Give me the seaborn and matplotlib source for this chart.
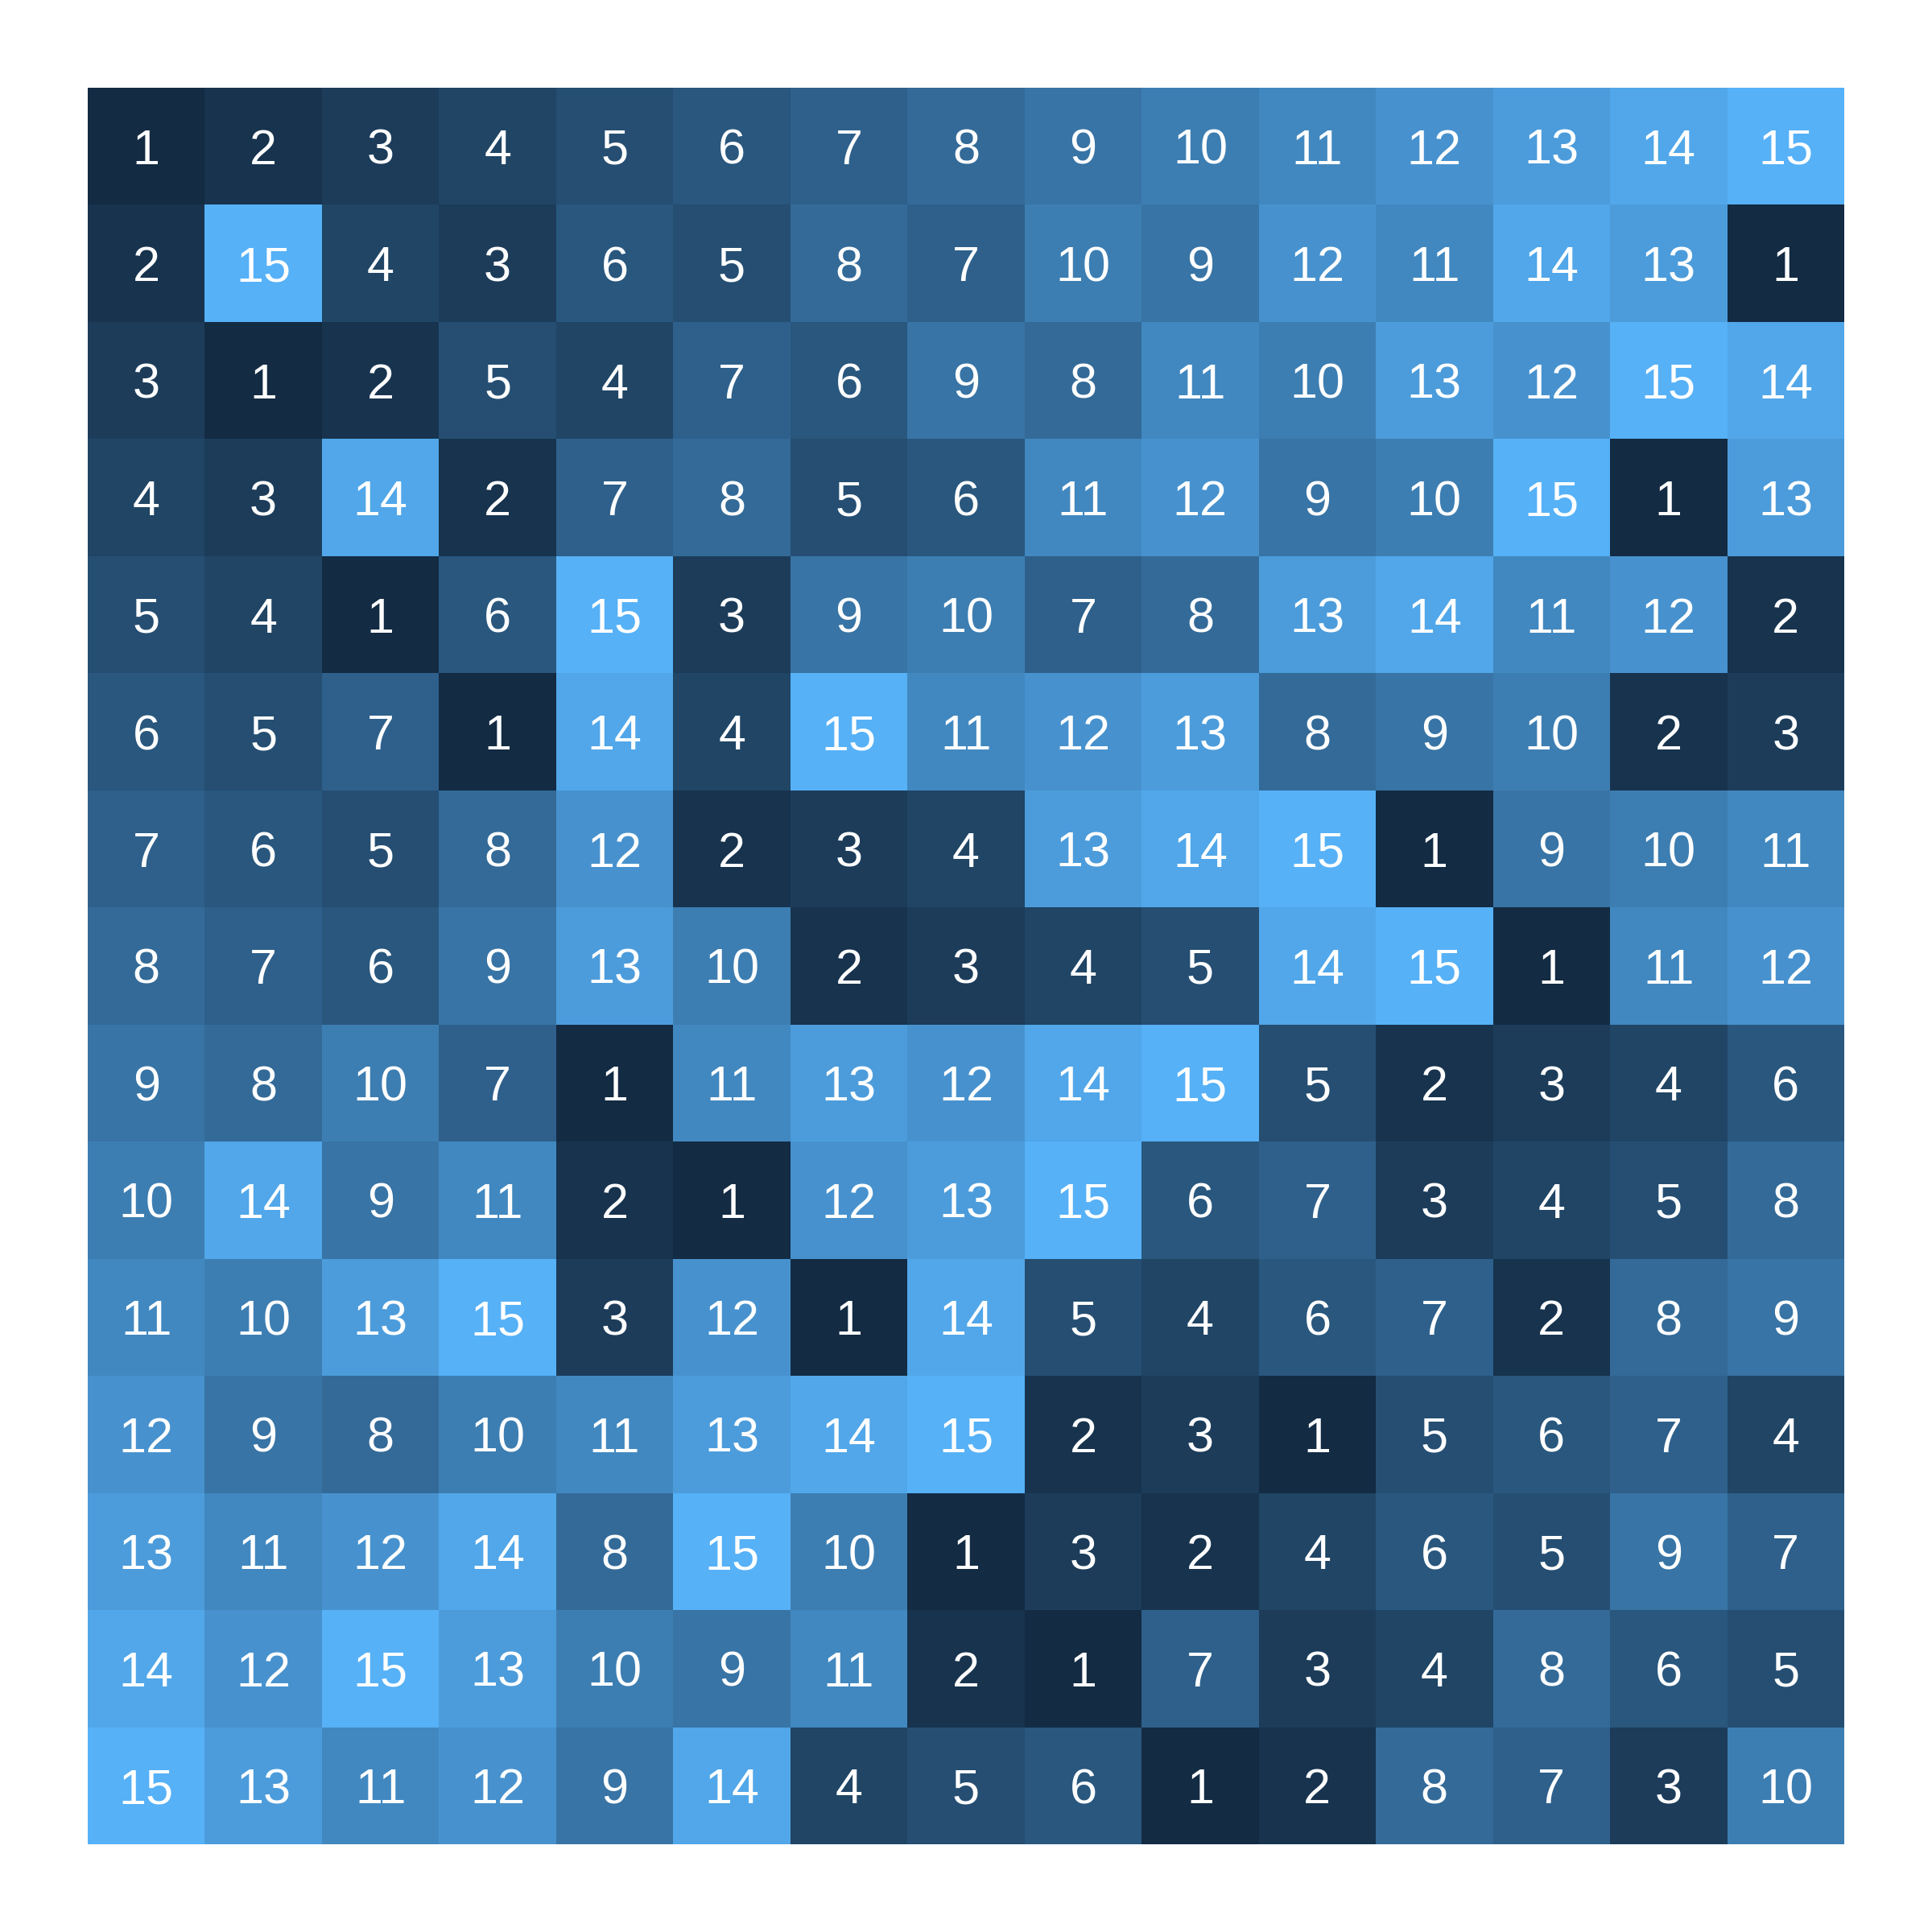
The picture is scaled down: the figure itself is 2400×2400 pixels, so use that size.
import numpy as np
import pandas as pd
import seaborn as sns
import matplotlib
matplotlib.use('Agg')
import matplotlib.pyplot as plt
from matplotlib.colors import ListedColormap

# latin-square-like grid, row by row from the top
row_1 = [1, 2, 3, 4, 5, 6, 7, 8, 9, 10, 11, 12, 13, 14, 15]
row_2 = [2, 15, 4, 3, 6, 5, 8, 7, 10, 9, 12, 11, 14, 13, 1]
row_3 = [3, 1, 2, 5, 4, 7, 6, 9, 8, 11, 10, 13, 12, 15, 14]
row_4 = [4, 3, 14, 2, 7, 8, 5, 6, 11, 12, 9, 10, 15, 1, 13]
row_5 = [5, 4, 1, 6, 15, 3, 9, 10, 7, 8, 13, 14, 11, 12, 2]
row_6 = [6, 5, 7, 1, 14, 4, 15, 11, 12, 13, 8, 9, 10, 2, 3]
row_7 = [7, 6, 5, 8, 12, 2, 3, 4, 13, 14, 15, 1, 9, 10, 11]
row_8 = [8, 7, 6, 9, 13, 10, 2, 3, 4, 5, 14, 15, 1, 11, 12]
row_9 = [9, 8, 10, 7, 1, 11, 13, 12, 14, 15, 5, 2, 3, 4, 6]
row_10 = [10, 14, 9, 11, 2, 1, 12, 13, 15, 6, 7, 3, 4, 5, 8]
row_11 = [11, 10, 13, 15, 3, 12, 1, 14, 5, 4, 6, 7, 2, 8, 9]
row_12 = [12, 9, 8, 10, 11, 13, 14, 15, 2, 3, 1, 5, 6, 7, 4]
row_13 = [13, 11, 12, 14, 8, 15, 10, 1, 3, 2, 4, 6, 5, 9, 7]
row_14 = [14, 12, 15, 13, 10, 9, 11, 2, 1, 7, 3, 4, 8, 6, 5]
row_15 = [15, 13, 11, 12, 9, 14, 4, 5, 6, 1, 2, 8, 7, 3, 10]

rows = [row_1, row_2, row_3, row_4, row_5, row_6, row_7, row_8,
        row_9, row_10, row_11, row_12, row_13, row_14, row_15]
df = pd.DataFrame(rows)


def srgb_to_lab(c):
    c = np.asarray(c, dtype=float)
    lin = np.where(c <= 0.04045, c / 12.92, ((c + 0.055) / 1.055) ** 2.4)
    m = np.array([[0.4124, 0.3576, 0.1805],
                  [0.2126, 0.7152, 0.0722],
                  [0.0193, 0.1192, 0.9505]])
    xyz = m @ lin / np.array([0.95047, 1.0, 1.08883])
    f = np.where(xyz > 0.008856, np.cbrt(xyz), 7.787 * xyz + 16 / 116)
    return np.array([116 * f[1] - 16, 500 * (f[0] - f[1]), 200 * (f[1] - f[2])])


def lab_to_srgb(lab):
    L, a, b = lab
    fy = (L + 16) / 116
    fx = fy + a / 500
    fz = fy - b / 200
    f = np.array([fx, fy, fz])
    xyz = np.where(f ** 3 > 0.008856, f ** 3, (f - 16 / 116) / 7.787)
    xyz = xyz * np.array([0.95047, 1.0, 1.08883])
    minv = np.array([[3.2406, -1.5372, -0.4986],
                     [-0.9689, 1.8758, 0.0415],
                     [0.0557, -0.2040, 1.0570]])
    lin = minv @ xyz
    c = np.where(lin <= 0.0031308, 12.92 * lin, 1.055 * np.clip(lin, 0, None) ** (1 / 2.4) - 0.055)
    return np.clip(c, 0, 1)


# ggplot-style gradient, interpolated in Lab
low = srgb_to_lab(matplotlib.colors.to_rgb('#132B43'))
high = srgb_to_lab(matplotlib.colors.to_rgb('#56B1F7'))
cmap = ListedColormap([lab_to_srgb(low + (high - low) * t) for t in np.linspace(0, 1, 256)])

plt.rcParams['font.family'] = ['Liberation Sans', 'DejaVu Sans']

fig = plt.figure(figsize=(12, 12), dpi=200)
ax = fig.add_axes([109 / 2400, 109 / 2400, 2182 / 2400, 2182 / 2400])
sns.heatmap(df, ax=ax, cmap=cmap, vmin=1, vmax=15, cbar=False, annot=True, fmt='d',
            annot_kws={'color': 'white', 'fontsize': 22, 'va': 'center_baseline'})
ax.set_xticks([])
ax.set_yticks([])
ax.set_xlabel('')
ax.set_ylabel('')
for s in ax.spines.values():
    s.set_visible(False)
fig.savefig('out.png', dpi=200)
